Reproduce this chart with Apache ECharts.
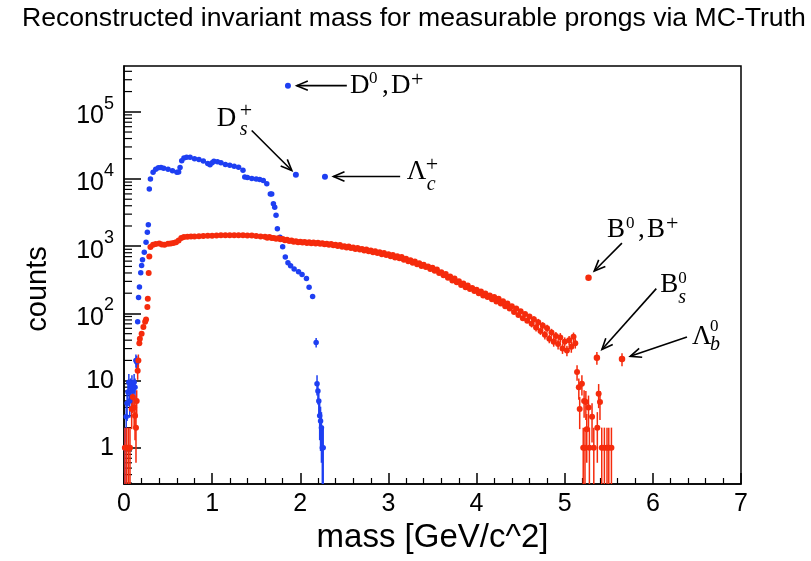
<!DOCTYPE html>
<html>
<head>
<meta charset="utf-8">
<script src="https://cdn.jsdelivr.net/npm/echarts@6/dist/echarts.min.js"></script>
<style>
html, body { margin: 0; padding: 0; background: #fff; }
#chart { width: 811px; height: 561px; }
</style>
</head>
<body>
<div id="chart"></div>
<script>
// blue: charm hadrons, [mass, counts]
var blueData = [
  [0.01,1],[0.025,2.9],[0.035,4.6],[0.045,6.8],[0.055,9.5],[0.065,5],[0.075,8],[0.09,9],[0.1,7],
  [0.115,9.5],[0.125,8],[0.135,20],[0.145,19],[0.155,75],[0.165,172],[0.175,247],[0.19,404],
  [0.2,516],[0.21,630],[0.23,815],[0.25,1150],[0.265,1620],[0.276,2090],[0.287,7100],[0.3,10000],
  [0.33,12600],[0.36,14000],[0.39,14700],[0.42,14800],[0.45,14500],[0.5,14000],[0.55,13300],
  [0.6,12600],[0.62,12700],[0.636,14800],[0.655,18700],[0.68,20500],[0.71,21000],[0.75,21000],
  [0.8,20000],[0.85,19500],[0.9,18500],[0.95,17000],[0.976,16300],[1.0,17500],[1.02,18400],
  [1.06,18000],[1.1,17500],[1.15,16500],[1.2,16000],[1.25,15500],[1.3,15000],[1.35,13500],
  [1.37,10700],[1.4,10500],[1.45,10200],[1.5,10000],[1.54,9800],[1.58,9500],[1.62,8500],
  [1.66,6000],[1.676,6000],[1.695,4270],[1.71,3800],[1.725,2900],[1.74,1820],[1.77,1365],
  [1.8,980],[1.83,690],[1.86,570],[1.89,513],[1.93,460],[1.98,417],[2.02,380],[2.07,331],
  [2.1,245],[2.14,178],[2.18,37],[2.19,9],[2.2,7],[2.21,5],[2.22,3],[2.23,2.5],[2.24,2],
  [2.25,1],[2.26,1]
];
var blueErr = [
  [0.01,0.1,2],[0.025,1.2,4.6],[0.035,2.5,6.8],[0.045,4.2,9.4],[0.055,6.4,12.6],[0.065,2.8,7.2],
  [0.075,5.2,10.8],[0.09,6,12],[0.1,4.4,9.6],[0.115,6.4,12.6],[0.125,5.2,10.8],[0.135,15.5,24.5],
  [0.145,14.6,23.4],[2.18,31,43],[2.19,6,12],[2.2,4.4,9.6],[2.21,2.8,7.2],[2.22,1.3,4.7],
  [2.23,0.9,4.1],[2.24,0.6,3.4],[2.25,0.1,2],[2.26,0.1,2]
];
var blueSpecial = [[1.86,245000],[1.95,11600],[2.28,10800]];

// red: bottom hadrons, [mass, counts]
var redData = [
  [0.01,1],[0.03,1],[0.05,1],[0.068,1],[0.087,3.8],[0.1,5.7],[0.115,4],[0.125,3],[0.136,2],
  [0.144,5],[0.155,14],[0.163,20],[0.174,36],[0.18,42],[0.2,50],[0.22,63],[0.24,75],[0.25,81],
  [0.265,125],[0.27,166],[0.28,400],[0.287,705],
  [0.3,975],[0.33,1050],[0.36,1080],[0.4,1100],[0.43,1060],[0.46,1050],[0.5,1090],[0.53,1100],
  [0.56,1120],[0.59,1150],[0.62,1220],[0.65,1330],[0.68,1370],[0.72,1380],[0.76,1390],[0.8,1400],
  [0.85,1410],[0.9,1420],[0.95,1430],[1.0,1430],[1.05,1440],[1.1,1450],[1.15,1450],[1.2,1450],
  [1.25,1460],[1.3,1450],[1.35,1450],[1.4,1440],[1.45,1440],[1.5,1420],[1.55,1400],
  [1.6,1380],[1.625,1340],[1.65,1370],[1.675,1320],[1.7,1330],[1.725,1290],[1.75,1310],[1.775,1270],
  [1.8,1280],[1.825,1230],[1.85,1250],[1.875,1200],[1.9,1220],[1.925,1170],[1.95,1190],[1.975,1150],
  [2.0,1170],[2.025,1140],[2.05,1160],[2.075,1120],[2.1,1150],[2.125,1110],[2.15,1140],[2.175,1100],
  [2.2,1130],[2.225,1090],[2.25,1110],[2.275,1070],[2.3,1090],[2.325,1050],[2.35,1080],[2.375,1030],
  [2.4,1050],[2.425,1010],[2.45,1040],[2.475,980],[2.5,1000],[2.525,960],[2.55,990],[2.575,940],
  [2.6,960],[2.625,910],[2.65,940],[2.675,890],[2.7,910],[2.725,860],[2.75,890],[2.775,840],
  [2.8,860],[2.825,810],[2.85,840],[2.875,790],[2.9,810],[2.925,760],[2.95,790],[2.975,740],
  [3.0,760],[3.025,710],[3.05,740],[3.075,680],[3.1,710],[3.125,660],[3.15,690],[3.175,630],
  [3.2,650],[3.225,600],[3.25,620],[3.275,570],[3.3,590],[3.325,540],[3.35,560],[3.375,510],
  [3.4,530],[3.425,490],[3.45,500],[3.475,460],[3.5,480],[3.525,430],[3.55,450],[3.575,400],
  [3.6,410],[3.625,370],[3.65,385],[3.675,340],[3.7,355],[3.725,310],[3.75,330],[3.775,290],
  [3.8,300],[3.825,265],[3.85,280],[3.875,245],[3.9,260],[3.925,230],[3.95,240],[3.975,215],
  [4.0,225],[4.025,200],[4.05,212],[4.075,185],[4.1,198],[4.125,175],[4.15,185],[4.175,162],
  [4.2,175],[4.225,150],[4.25,165],[4.275,140],[4.3,152],[4.325,128],[4.35,140],[4.375,118],
  [4.4,128],[4.425,105],[4.45,118],[4.475,95],[4.5,108],[4.525,85],[4.55,98],[4.575,78],
  [4.6,90],[4.625,70],[4.65,82],[4.675,62],[4.7,74],[4.725,55],[4.75,66],[4.775,48],
  [4.8,60],[4.825,42],[4.85,52],[4.875,38],[4.9,46],[4.925,35],[4.95,44],[4.975,30],
  [5.0,38],[5.025,28],[5.05,40],[5.075,32],[5.1,45],[5.12,36],
  [5.14,13.5],[5.16,8],[5.17,3.8],[5.195,9],[5.21,1],[5.22,5],[5.23,1],[5.24,4.8],[5.25,1.9],
  [5.27,4],[5.28,1],[5.31,2.9],[5.33,1],[5.37,2],[5.385,6.4],[5.4,4.8],[5.42,1],[5.45,1],
  [5.48,1],[5.5,1],[5.53,1]
];
var redErr = [
  [0.01,0.1,2],[0.03,0.1,2],[0.05,0.1,2],[0.068,0.1,2],[0.087,1.9,5.7],[0.1,3.3,8.1],
  [0.115,2,6],[0.125,1.3,4.7],[0.136,0.6,3.4],[0.144,2.8,7.2],[0.155,10.3,17.7],[0.163,15.5,24.5],
  [4.625,62,78],[4.65,73,91],[4.675,54,70],[4.7,65,83],[4.725,48,62],[4.75,58,74],[4.775,41,55],
  [4.8,52,68],[4.825,36,48],[4.85,45,59],[4.875,32,44],[4.9,39,53],[4.925,29,41],[4.95,37,51],
  [4.975,25,35],[5.0,32,44],[5.025,23,33],[5.05,34,46],[5.075,26,38],[5.1,38,52],[5.12,30,42],
  [5.14,10,17],[5.16,5.2,10.8],[5.17,1.9,5.7],[5.195,6,12],[5.21,0.1,2],[5.22,2.8,7.2],
  [5.23,0.1,2],[5.24,2.6,7],[5.25,0.6,3.2],[5.27,2,6],[5.28,0.1,2],[5.31,1.2,4.6],[5.33,0.1,2],
  [5.37,0.6,3.4],[5.385,3.9,8.9],[5.4,2.6,7],[5.42,0.1,2],[5.45,0.1,2],[5.48,0.1,2],[5.5,0.1,2],
  [5.53,0.1,2],[5.365,17.3,26.7],[5.65,16.4,25.6]
];
var redSpecial = [[5.27,340],[5.365,22],[5.65,21]];

// annotation arrows: [tailMass, tailCounts, tipMass, tipCounts]
var arrows = [
  [2.528,245000,1.96,245000],
  [1.449,52600,1.904,13400],
  [3.133,10900,2.376,10900],
  [5.649,1112,5.335,427],
  [6.039,234,5.422,29],
  [6.387,44.6,5.743,23]
];
// annotation anchors: [mass, counts, labelIndex]
var labelAnchors = [
  [2.565,241000,0],
  [1.052,78400,1],
  [3.209,12600,2],
  [5.479,1735,3],
  [6.084,262,4],
  [6.444,44.6,5]
];
var labelParts = [
  [{t:'D',dx:0,dy:0,s:27},{t:'0',dx:19,dy:-8,s:17},{t:',',dx:32,dy:0,s:27},{t:'D',dx:41,dy:0,s:27},{t:'+',dx:61,dy:-6,s:22}],
  [{t:'D',dx:0,dy:0,s:27},{t:'+',dx:23,dy:-8,s:22},{t:'s',dx:23,dy:11,s:20,i:true}],
  [{t:'Λ',dx:0,dy:0,s:27},{t:'+',dx:19,dy:-7,s:22},{t:'c',dx:20,dy:12,s:20,i:true}],
  [{t:'B',dx:0,dy:0,s:27},{t:'0',dx:19,dy:-7,s:17},{t:',',dx:31,dy:0,s:27},{t:'B',dx:40,dy:0,s:27},{t:'+',dx:59,dy:-6,s:22}],
  [{t:'B',dx:0,dy:0,s:27},{t:'0',dx:18,dy:-7,s:17},{t:'s',dx:18,dy:12,s:20,i:true}],
  [{t:'Λ',dx:0,dy:0,s:27},{t:'0',dx:18,dy:-10,s:17},{t:'b',dx:18,dy:8,s:20,i:true}]
];

var yDecades = [0.1,1,10,100,1000,10000,100000];
var yMinorSteps = [2,3,4,5,6,7,8,9];
var yMinorTicks = [];
yDecades.forEach(function (d) {
  yMinorSteps.forEach(function (k) { yMinorTicks.push([0, d * k]); });
});

var blue = '#1e3ff2';
var red = '#f52b0c';

function errorSeries(data, color) {
  return {
    type: 'custom',
    data: data,
    clip: true,
    silent: true,
    z: 2,
    encode: { x: 0, y: [1, 2] },
    renderItem: function (params, api) {
      var lo = api.coord([api.value(0), api.value(1)]);
      var hi = api.coord([api.value(0), api.value(2)]);
      return {
        type: 'line',
        shape: { x1: lo[0], y1: lo[1], x2: hi[0], y2: hi[1] },
        style: { stroke: color, lineWidth: 1.5 }
      };
    }
  };
}

var chart = echarts.init(document.getElementById('chart'));
chart.setOption({
  animation: false,
  title: {
    text: 'Reconstructed invariant mass for measurable prongs via MC-Truth',
    left: 17,
    top: 0,
    textStyle: { fontFamily: 'Liberation Sans', fontSize: 26.6, fontWeight: 'normal', color: '#000' }
  },
  grid: {
    left: 124, right: 70, top: 66, bottom: 77,
    outerBoundsMode: 'none',
    containLabel: false,
    show: true, borderColor: '#000', borderWidth: 1.5
  },
  xAxis: {
    type: 'value',
    min: 0, max: 7, interval: 1,
    name: 'mass [GeV/c^2]',
    nameLocation: 'middle',
    nameGap: 36,
    nameTextStyle: { fontFamily: 'Liberation Sans', fontSize: 33, color: '#000' },
    axisLine: { lineStyle: { color: '#000', width: 1.5 } },
    axisTick: { inside: true, length: 11, lineStyle: { color: '#000', width: 1.5 } },
    minorTick: { show: true, splitNumber: 5, length: 6, lineStyle: { color: '#000', width: 1.2 } },
    axisLabel: { fontFamily: 'Liberation Sans', fontSize: 25, color: '#000', margin: 8 },
    splitLine: { show: false }
  },
  yAxis: {
    type: 'log',
    logBase: 10,
    min: 0.29, max: 480000,
    name: 'counts',
    nameLocation: 'middle',
    nameGap: 72,
    nameTextStyle: { fontFamily: 'Liberation Sans', fontSize: 29, color: '#000', padding: [0, 28, 0, 0] },
    axisLine: { lineStyle: { color: '#000', width: 1.5 } },
    axisTick: { inside: true, length: 17, lineStyle: { color: '#000', width: 1.5 } },
    splitLine: { show: false },
    axisLabel: {
      showMinLabel: false,
      showMaxLabel: false,
      margin: 10,
      fontFamily: 'Liberation Sans',
      fontSize: 25,
      color: '#000',
      formatter: function (v) {
        var e = Math.log10(v);
        var r = Math.round(e);
        if (Math.abs(e - r) > 1e-6) return '';
        if (r === 0) return '1';
        if (r === 1) return '10';
        return '{b|10}{sup|' + r + '}';
      },
      rich: {
        b: { fontFamily: 'Liberation Sans', fontSize: 25, color: '#000', lineHeight: 34, verticalAlign: 'bottom' },
        sup: { fontFamily: 'Liberation Sans', fontSize: 18, color: '#000', lineHeight: 34, verticalAlign: 'top' }
      }
    }
  },
  series: [
    {
      type: 'custom',
      data: yMinorTicks,
      clip: true,
      silent: true,
      renderItem: function (params, api) {
        var p = api.coord([api.value(0), api.value(1)]);
        return {
          type: 'line',
          shape: { x1: p[0], y1: p[1], x2: p[0] + 8, y2: p[1] },
          style: { stroke: '#000', lineWidth: 1.2 }
        };
      }
    },
    errorSeries(blueErr, blue),
    errorSeries(redErr, red),
    {
      type: 'scatter', data: blueData, symbolSize: 5.5, z: 3,
      itemStyle: { color: blue, opacity: 1 }
    },
    {
      type: 'scatter', data: redData, symbolSize: 6, z: 4,
      itemStyle: { color: red, opacity: 1 }
    },
    {
      type: 'scatter', data: blueSpecial, symbolSize: 6, z: 4,
      itemStyle: { color: blue, opacity: 1 }
    },
    {
      type: 'scatter', data: redSpecial, symbolSize: 6.5, z: 4,
      itemStyle: { color: red, opacity: 1 }
    },
    {
      type: 'custom',
      data: arrows,
      clip: false,
      silent: true,
      z: 5,
      encode: { x: [0, 2], y: [1, 3] },
      renderItem: function (params, api) {
        var a = api.coord([api.value(0), api.value(1)]);
        var b = api.coord([api.value(2), api.value(3)]);
        var ang = Math.atan2(b[1] - a[1], b[0] - a[0]);
        var len = 12, spread = 0.4;
        var h1 = [b[0] - len * Math.cos(ang - spread), b[1] - len * Math.sin(ang - spread)];
        var h2 = [b[0] - len * Math.cos(ang + spread), b[1] - len * Math.sin(ang + spread)];
        var st = { stroke: '#000', lineWidth: 1.6, fill: null };
        return {
          type: 'group',
          children: [
            { type: 'line', shape: { x1: a[0], y1: a[1], x2: b[0], y2: b[1] }, style: st },
            { type: 'polyline', shape: { points: [h1, b, h2] }, style: st }
          ]
        };
      }
    },
    {
      type: 'custom',
      data: labelAnchors,
      clip: false,
      silent: true,
      z: 5,
      renderItem: function (params, api) {
        var p = api.coord([api.value(0), api.value(1)]);
        var parts = labelParts[api.value(2)];
        return {
          type: 'group',
          children: parts.map(function (q) {
            return {
              type: 'text',
              x: p[0] + q.dx,
              y: p[1] + q.dy,
              style: {
                text: q.t,
                fontFamily: 'Liberation Serif',
                fontSize: q.s,
                fontStyle: q.i ? 'italic' : 'normal',
                fill: '#000',
                align: 'left',
                verticalAlign: 'middle'
              }
            };
          })
        };
      }
    }
  ]
});
</script>
</body>
</html>
